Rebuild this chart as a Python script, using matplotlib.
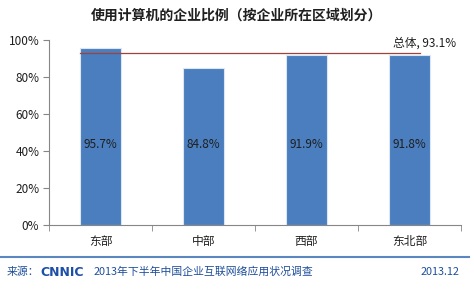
import matplotlib
matplotlib.use("Agg")
import matplotlib.pyplot as plt
from matplotlib.lines import Line2D

plt.rcParams['font.family'] = ['Noto Sans CJK SC', 'DejaVu Sans']

# 数据
regiones = ['东部', '中部', '西部', '东北部']
valores = [95.7, 84.8, 91.9, 91.8]
total = 93.1
titulo = '使用计算机的企业比例（按企业所在区域划分）'
fuente = '2013年下半年中国企业互联网络应用状况调查'
fecha = '2013.12'

fig = plt.figure(figsize=(4.74, 2.90), dpi=100)
ax = fig.add_axes([0.1034, 0.2241, 0.8692, 0.638])

x = range(len(regiones))
ax.bar(x, valores, width=0.4, color='#4A7EBF', edgecolor='#DCE6F2', linewidth=0.8, zorder=2)
for i, v in zip(x, valores):
    ax.text(i, 43.5, f'{v}%', ha='center', va='center', fontsize=8.5, color='#1F1F1F', zorder=4)

# linea del total
ax.plot([-0.2, 3.1], [total, total], color='#A0413C', linewidth=0.9, zorder=3)
ax.text(3.45, total + 1.5, f'总体, {total}%', ha='right', va='bottom', fontsize=8.5, color='#1F1F1F')

ax.set_xlim(-0.5, 3.5)
ax.set_ylim(0, 100)
ax.set_yticks(range(0, 101, 20))
ax.set_yticklabels([f'{t}%' for t in range(0, 101, 20)], fontsize=8.5, color='#1F1F1F')
ax.set_xticks(list(x))
ax.set_xticklabels(regiones, fontsize=8.5, color='#1F1F1F')
ax.tick_params(axis='x', length=0, pad=7)
ax.set_xticks([-0.5, 0.5, 1.5, 2.5, 3.5], minor=True)
ax.tick_params(axis='x', which='minor', length=4, color='#868686')
ax.tick_params(axis='y', length=4, color='#868686', pad=3)
for s in ['top', 'right']:
    ax.spines[s].set_visible(False)
for s in ['left', 'bottom']:
    ax.spines[s].set_color('#868686')

fig.text(0.5, 0.945, titulo, ha='center', va='center', fontsize=10, fontweight='bold', color='#1F1F1F')

# pie de pagina
fig.add_artist(Line2D([0.0, 0.99], [0.114, 0.114], transform=fig.transFigure, color='#5B87C0', linewidth=1.5))
fig.text(0.015, 0.062, '来源：', ha='left', va='center', fontsize=7.8, color='#1F4E9A')
fig.text(0.085, 0.062, 'CNNIC', ha='left', va='center', fontsize=9, fontweight='bold', color='#1E4FA8', family='DejaVu Sans')
fig.text(0.198, 0.062, fuente, ha='left', va='center', fontsize=7.8, color='#1F4E9A')
fig.text(0.97, 0.062, fecha, ha='right', va='center', fontsize=7.8, color='#1F4E9A')

fig.savefig('out.png', dpi=100)
